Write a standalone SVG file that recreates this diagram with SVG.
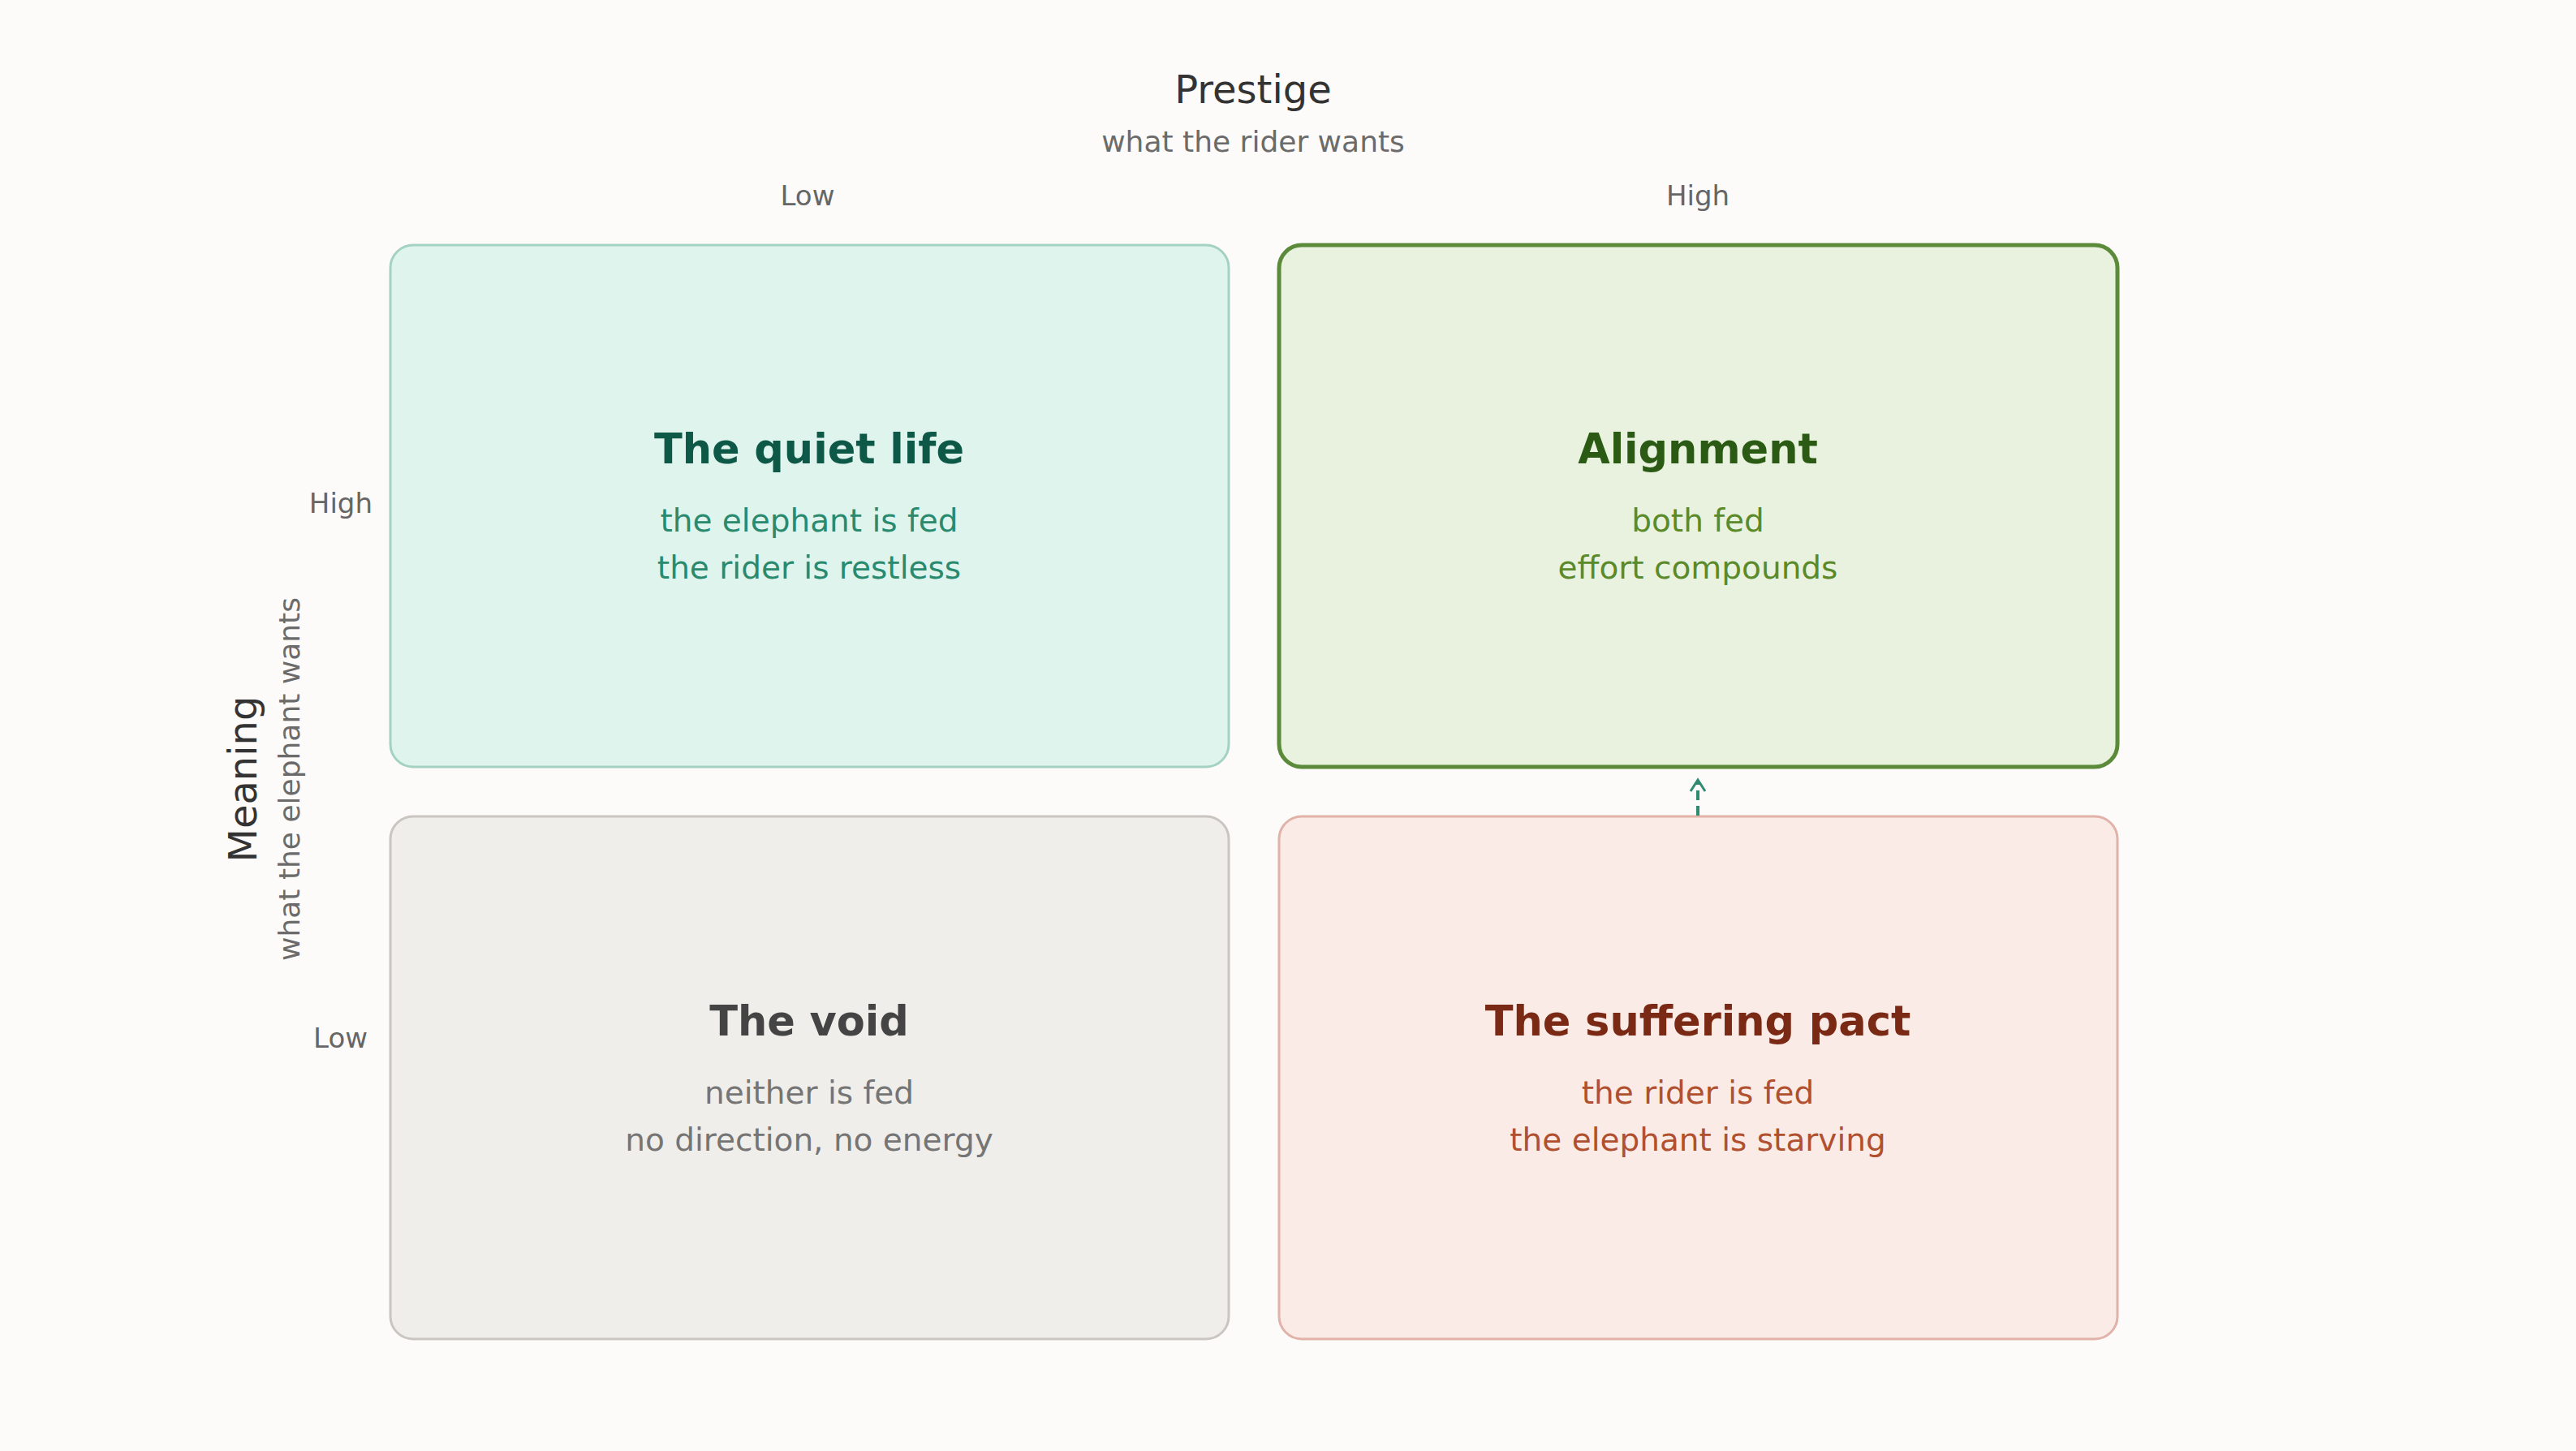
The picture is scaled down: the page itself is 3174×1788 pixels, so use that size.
<svg xmlns="http://www.w3.org/2000/svg" width="3174" height="1788" viewBox="0 0 3174 1788">
<defs>
<style>
text{font-family:"DejaVu Sans","Liberation Sans",sans-serif;}
.axis{font-size:48px;fill:#333;text-anchor:middle;}
.axsub{font-size:36px;fill:#6b6b6b;text-anchor:middle;}
.tick{font-size:34px;fill:#666;}
.title{font-size:51px;font-weight:bold;text-anchor:middle;}
.sub{font-size:39px;text-anchor:middle;}
</style>
<marker id="chev" viewBox="0 0 20 22" refX="17" refY="11" markerWidth="20" markerHeight="22" markerUnits="userSpaceOnUse" orient="auto">
<path d="M3,2 L17,11 L3,20" fill="none" stroke="#2e8b72" stroke-width="3"/>
</marker>
</defs>
<rect width="3174" height="1788" fill="#fdfbf9"/>
<g id="axes">
<text class="axis" x="1544" y="127">Prestige</text>
<text class="axsub" x="1544" y="187">what the rider wants</text>
<text class="tick" x="995" y="253" text-anchor="middle">Low</text>
<text class="tick" x="2092" y="253" text-anchor="middle">High</text>
<text class="tick" x="459" y="632" text-anchor="end">High</text>
<text class="tick" x="453" y="1291" text-anchor="end">Low</text>
<text class="axis" transform="translate(316,960) rotate(-90)">Meaning</text>
<text class="axsub" transform="translate(369,960) rotate(-90)">what the elephant wants</text>
</g>
<g id="quiet-life">
<rect x="481" y="302" width="1033" height="643" rx="28" fill="#e0f4ee" stroke="#a3d2c3" stroke-width="3"/>
<text class="title" x="997" y="571" fill="#0e5848">The quiet life</text>
<text class="sub" x="997" y="655" fill="#2a8a6e">the elephant is fed</text>
<text class="sub" x="997" y="713" fill="#2a8a6e">the rider is restless</text>
</g>
<g id="alignment">
<rect x="1576" y="302" width="1033" height="643" rx="28" fill="#e9f2de" stroke="#5b8a3a" stroke-width="5"/>
<text class="title" x="2092" y="571" fill="#2b5a14">Alignment</text>
<text class="sub" x="2092" y="655" fill="#5a8a2a">both fed</text>
<text class="sub" x="2092" y="713" fill="#5a8a2a">effort compounds</text>
</g>
<g id="void">
<rect x="481" y="1006" width="1033" height="644" rx="28" fill="#f0eeea" stroke="#c9c6c2" stroke-width="3"/>
<text class="title" x="997" y="1276" fill="#444">The void</text>
<text class="sub" x="997" y="1360" fill="#757575">neither is fed</text>
<text class="sub" x="997" y="1418" fill="#757575">no direction, no energy</text>
</g>
<g id="suffering-pact">
<rect x="1576" y="1006" width="1033" height="644" rx="28" fill="#fbebe7" stroke="#e0b2a8" stroke-width="3"/>
<text class="title" x="2092" y="1276" fill="#7a2a14">The suffering pact</text>
<text class="sub" x="2092" y="1360" fill="#b0502f">the rider is fed</text>
<text class="sub" x="2092" y="1418" fill="#b0502f">the elephant is starving</text>
</g>
<g id="connectors">
<line x1="2092" y1="1005" x2="2092" y2="961" stroke="#2e8b72" stroke-width="4" stroke-dasharray="12 7" marker-end="url(#chev)"/>
</g>
</svg>
